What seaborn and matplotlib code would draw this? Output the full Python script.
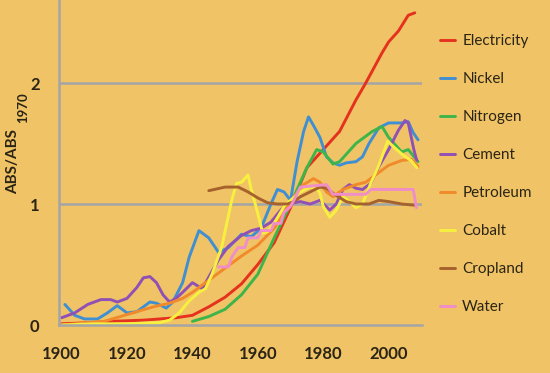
import pandas as pd
import seaborn as sns
import matplotlib.pyplot as plt
from matplotlib.ticker import MultipleLocator

# data (ABS relative to 1970)
elec_year = [1900, 1905, 1910, 1915, 1920, 1925, 1930, 1935, 1940, 1945,
             1950, 1955, 1960, 1965, 1970, 1975, 1980, 1985, 1990, 1993,
             1995, 1998, 2000, 2003, 2006, 2008]
elec_val = [0.01, 0.015, 0.02, 0.03, 0.035, 0.04, 0.05, 0.06, 0.08, 0.15,
            0.23, 0.34, 0.5, 0.68, 0.97, 1.3, 1.45, 1.6, 1.86, 2.0,
            2.1, 2.25, 2.34, 2.43, 2.56, 2.58]

nick_year = [1901, 1904, 1907, 1911, 1914, 1917, 1920, 1923, 1927, 1929,
             1932, 1934, 1937, 1939, 1942, 1945, 1948, 1951, 1955, 1958,
             1961, 1964, 1966, 1968, 1970, 1972, 1974, 1975.5, 1977, 1979,
             1981, 1983, 1985, 1987, 1990, 1992, 1994, 1997, 2000, 2004,
             2006, 2007.5, 2009]
nick_val = [0.17, 0.08, 0.05, 0.05, 0.1, 0.16, 0.1, 0.11, 0.19, 0.18,
            0.14, 0.19, 0.35, 0.56, 0.78, 0.72, 0.6, 0.64, 0.75, 0.73,
            0.8, 1.0, 1.12, 1.1, 1.03, 1.35, 1.6, 1.72, 1.65, 1.55,
            1.39, 1.34, 1.32, 1.34, 1.35, 1.39, 1.5, 1.63, 1.67, 1.67,
            1.68, 1.59, 1.53]

nitr_year = [1940, 1945, 1950, 1955, 1960, 1965, 1970, 1975, 1978, 1980,
             1983, 1985, 1990, 1995, 1998, 2000, 2004, 2006, 2009]
nitr_val = [0.03, 0.07, 0.13, 0.25, 0.42, 0.72, 1.0, 1.3, 1.45, 1.43,
            1.33, 1.35, 1.5, 1.6, 1.64, 1.55, 1.43, 1.45, 1.35]

cem_year = [1900, 1904, 1908, 1912, 1915, 1917, 1920, 1923, 1925, 1927,
            1929, 1931, 1933, 1935, 1937, 1940, 1943, 1948, 1951, 1955,
            1958, 1961, 1964, 1967, 1969, 1973, 1976, 1979, 1982, 1984,
            1986, 1988, 1990, 1992, 1994.5, 1997, 2000, 2003, 2005, 2006,
            2007.7, 2008.6]
cem_val = [0.06, 0.1, 0.17, 0.21, 0.21, 0.19, 0.22, 0.31, 0.39, 0.4,
           0.35, 0.25, 0.19, 0.22, 0.27, 0.35, 0.3, 0.54, 0.65, 0.74,
           0.78, 0.8, 0.85, 0.95, 1.0, 1.02, 1.0, 1.03, 0.95, 1.0,
           1.12, 1.16, 1.13, 1.12, 1.17, 1.31, 1.45, 1.61, 1.69, 1.67,
           1.45, 1.36]

pet_year = [1900, 1908, 1913, 1918, 1923, 1928, 1933, 1937, 1940, 1945,
            1950, 1955, 1960, 1965, 1968, 1971, 1974, 1977, 1979, 1981,
            1983, 1986, 1990, 1993, 1997, 2000, 2004, 2007, 2009]
pet_val = [0.0, 0.02, 0.03, 0.07, 0.11, 0.15, 0.18, 0.22, 0.27, 0.37,
           0.47, 0.57, 0.66, 0.8, 0.93, 1.06, 1.16, 1.21, 1.18, 1.1,
           1.06, 1.12, 1.16, 1.18, 1.26, 1.32, 1.36, 1.37, 1.31]

cob_year = [1900, 1910, 1920, 1930, 1933, 1936, 1939, 1942, 1944, 1946,
            1949, 1952, 1953.5, 1955, 1957, 1958, 1960, 1961.5, 1963, 1965,
            1968, 1970, 1973, 1976, 1978, 1979, 1980, 1982, 1984, 1986,
            1988, 1990, 1992, 1994.5, 1997, 1999.7, 2001.6, 2004.6, 2006.8,
            2008.6]
cob_val = [0.0, 0.01, 0.01, 0.02, 0.04, 0.1, 0.2, 0.27, 0.3, 0.42,
           0.65, 1.03, 1.17, 1.18, 1.24, 1.12, 0.92, 0.76, 0.77, 0.84,
           0.98, 1.03, 1.1, 1.14, 1.13, 1.09, 0.98, 0.89, 0.95, 1.06,
           1.02, 0.97, 1.0, 1.17, 1.32, 1.52, 1.47, 1.4, 1.36,
           1.3]

crop_year = [1945, 1950, 1954, 1957, 1960, 1963, 1966, 1969, 1971, 1973,
             1976, 1979, 1981, 1984, 1987, 1990, 1994, 1997, 2000, 2004,
             2008]
crop_val = [1.11, 1.14, 1.14, 1.1, 1.05, 1.01, 1.0, 1.0, 1.02, 1.06,
            1.1, 1.14, 1.13, 1.07, 1.02, 1.0, 1.0, 1.03, 1.02, 1.0,
            0.99]

wat_year = [1948, 1951, 1952, 1954, 1956, 1957, 1960, 1961, 1964, 1965,
            1967, 1968, 1970, 1971, 1973, 1981, 1982, 1983, 1993, 1994.5,
            2007.5, 2008.5]
wat_val = [0.48, 0.48, 0.56, 0.64, 0.64, 0.72, 0.72, 0.78, 0.78, 0.84,
           0.84, 0.93, 0.98, 1.03, 1.14, 1.16, 1.12, 1.08, 1.08, 1.12,
           1.12, 0.97]

names = ['Electricity', 'Nickel', 'Nitrogen', 'Cement', 'Petroleum',
         'Cobalt', 'Cropland', 'Water']
colors = ['#E4321E', '#3F8FD2', '#3DB54A', '#9150B4', '#F08A2A',
          '#F7F040', '#A5622C', '#F08EC8']
series = [(elec_year, elec_val), (nick_year, nick_val), (nitr_year, nitr_val),
          (cem_year, cem_val), (pet_year, pet_val), (cob_year, cob_val),
          (crop_year, crop_val), (wat_year, wat_val)]

# build long data frame
frames = []
for name, (yr, val) in zip(names, series):
    frames.append(pd.DataFrame({'year': yr, 'value': val, 'resource': name}))
df = pd.concat(frames, ignore_index=True)

BG = '#F0C466'
GRAY = '#A3A5A6'
TXT = '#2B2415'

sns.set_theme(style='white')
plt.rcParams['font.family'] = ['Lato', 'DejaVu Sans']

fig = plt.figure(figsize=(5.5, 3.73), dpi=100, facecolor=BG)
ax = fig.add_axes([59 / 550, 48 / 373, 363 / 550, 325 / 373])
ax.set_facecolor(BG)

# gridlines at 1 and 2
for g in [1, 2]:
    ax.axhline(g, color=GRAY, lw=1.8, zorder=0)

sns.lineplot(data=df, x='year', y='value', hue='resource', hue_order=names,
             palette=colors, estimator=None, sort=False, lw=2.1, ax=ax)

ax.set_xlim(1899.2, 2010.2)
ax.set_ylim(0, 2.686)

ax.set_xticks([1900, 1920, 1940, 1960, 1980, 2000])
ax.set_yticks([0, 1, 2])
ax.set_yticklabels(['0', '1', '2'])
ax.xaxis.set_minor_locator(MultipleLocator(5))
ax.yaxis.set_minor_locator(MultipleLocator(0.2))
ax.tick_params(axis='both', which='major', length=0, labelsize=12,
               labelcolor=TXT)
ax.tick_params(axis='x', which='major', pad=15)
ax.tick_params(axis='y', which='major', pad=14)
ax.tick_params(axis='both', which='minor', direction='in', length=4,
               width=1.2, color=GRAY)
ax.tick_params(axis='x', which='major', direction='in', length=4,
               width=1.2, color=GRAY)
for lab in ax.get_xticklabels() + ax.get_yticklabels():
    lab.set_fontweight('bold')

for side in ['top', 'right']:
    ax.spines[side].set_visible(False)
for side in ['left', 'bottom']:
    ax.spines[side].set_color(GRAY)
    ax.spines[side].set_linewidth(1.8)

ax.set_xlabel('')
ax.set_ylabel('')
# y label with a full-size subscript
fig.text(13 / 550, 1 - 162 / 373, 'ABS/ABS', rotation=90, ha='center',
         va='center', fontsize=11, fontweight='bold', color=TXT)
fig.text(23.5 / 550, 1 - 108 / 373, '1970', rotation=90, ha='center',
         va='center', fontsize=9.5, fontweight='bold', color=TXT)

# legend on the right
handles, labels = ax.get_legend_handles_labels()
ax.legend(handles, labels, loc='upper left',
          bbox_to_anchor=(440 / 550, 1 - 34 / 373),
          bbox_transform=fig.transFigure, frameon=False, fontsize=11,
          labelcolor=TXT, handlelength=1.0, handletextpad=0.45,
          labelspacing=1.57, borderpad=0, borderaxespad=0)

fig.savefig('out.png', dpi=100, facecolor=BG)
